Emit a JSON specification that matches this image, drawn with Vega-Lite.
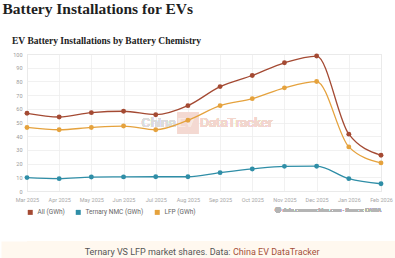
{
  "$schema": "https://vega.github.io/schema/vega-lite/v6.json",
  "background": "#ffffff",
  "padding": {"left": 0, "top": 1, "right": 0, "bottom": 0},
  "columns": 1,
  "align": "none",
  "spacing": 24,
  "resolve": {"legend": {"color": "independent"}, "scale": {"color": "independent"}},
  "title": {
    "text": "Battery Installations for EVs",
    "anchor": "start",
    "font": "Liberation Serif",
    "fontSize": 15.5,
    "fontWeight": "bold",
    "color": "#1f1f1f",
    "offset": 18,
    "dx": 2
  },
  "datasets": {
    "installs": [
      {"month": "Mar 2025", "series": "All (GWh)", "gwh": 56.7},
      {"month": "Apr 2025", "series": "All (GWh)", "gwh": 54.0},
      {"month": "May 2025", "series": "All (GWh)", "gwh": 57.2},
      {"month": "Jun 2025", "series": "All (GWh)", "gwh": 58.2},
      {"month": "Jul 2025", "series": "All (GWh)", "gwh": 55.7},
      {"month": "Aug 2025", "series": "All (GWh)", "gwh": 62.3},
      {"month": "Sep 2025", "series": "All (GWh)", "gwh": 76.2},
      {"month": "Oct 2025", "series": "All (GWh)", "gwh": 84.3},
      {"month": "Nov 2025", "series": "All (GWh)", "gwh": 93.6},
      {"month": "Dec 2025", "series": "All (GWh)", "gwh": 98.5},
      {"month": "Jan 2026", "series": "All (GWh)", "gwh": 41.5},
      {"month": "Feb 2026", "series": "All (GWh)", "gwh": 26.1},
      {"month": "Mar 2025", "series": "Ternary NMC (GWh)", "gwh": 9.8},
      {"month": "Apr 2025", "series": "Ternary NMC (GWh)", "gwh": 9.0},
      {"month": "May 2025", "series": "Ternary NMC (GWh)", "gwh": 10.2},
      {"month": "Jun 2025", "series": "Ternary NMC (GWh)", "gwh": 10.3},
      {"month": "Jul 2025", "series": "Ternary NMC (GWh)", "gwh": 10.4},
      {"month": "Aug 2025", "series": "Ternary NMC (GWh)", "gwh": 10.4},
      {"month": "Sep 2025", "series": "Ternary NMC (GWh)", "gwh": 13.4},
      {"month": "Oct 2025", "series": "Ternary NMC (GWh)", "gwh": 16.1},
      {"month": "Nov 2025", "series": "Ternary NMC (GWh)", "gwh": 18.0},
      {"month": "Dec 2025", "series": "Ternary NMC (GWh)", "gwh": 18.1},
      {"month": "Jan 2026", "series": "Ternary NMC (GWh)", "gwh": 9.0},
      {"month": "Feb 2026", "series": "Ternary NMC (GWh)", "gwh": 5.3},
      {"month": "Mar 2025", "series": "LFP (GWh)", "gwh": 46.4},
      {"month": "Apr 2025", "series": "LFP (GWh)", "gwh": 44.7},
      {"month": "May 2025", "series": "LFP (GWh)", "gwh": 46.4},
      {"month": "Jun 2025", "series": "LFP (GWh)", "gwh": 47.4},
      {"month": "Jul 2025", "series": "LFP (GWh)", "gwh": 44.7},
      {"month": "Aug 2025", "series": "LFP (GWh)", "gwh": 51.6},
      {"month": "Sep 2025", "series": "LFP (GWh)", "gwh": 62.3},
      {"month": "Oct 2025", "series": "LFP (GWh)", "gwh": 67.4},
      {"month": "Nov 2025", "series": "LFP (GWh)", "gwh": 75.3},
      {"month": "Dec 2025", "series": "LFP (GWh)", "gwh": 79.9},
      {"month": "Jan 2026", "series": "LFP (GWh)", "gwh": 32.2},
      {"month": "Feb 2026", "series": "LFP (GWh)", "gwh": 20.5}
    ],
    "footer": [
      {"lead": "Ternary VS LFP market shares. Data:", "link": "China EV DataTracker", "row": 0.5}
    ]
  },
  "concat": [
    {
      "width": 354,
      "height": 137,
      "title": {
        "text": "EV Battery Installations by Battery Chemistry",
        "anchor": "start",
        "font": "Liberation Serif",
        "fontSize": 9.5,
        "fontWeight": "bold",
        "color": "#222222",
        "offset": 7,
        "dx": 11
      },
      "data": {"name": "installs"},
      "encoding": {
        "x": {
          "field": "month",
          "type": "ordinal",
          "scale": {
            "type": "point",
            "padding": 0,
            "domain": ["Mar 2025", "Apr 2025", "May 2025", "Jun 2025", "Jul 2025", "Aug 2025", "Sep 2025", "Oct 2025", "Nov 2025", "Dec 2025", "Jan 2026", "Feb 2026"]
          },
          "axis": {
            "title": null,
            "labelAngle": 0,
            "labelFont": "Roboto",
            "labelFontSize": 5.5,
            "labelColor": "#a8a8a8",
            "labelPadding": 6,
            "ticks": false,
            "domain": false,
            "grid": true,
            "gridColor": "#eeeeee",
            "gridWidth": 0.8
          }
        },
        "y": {
          "field": "gwh",
          "type": "quantitative",
          "scale": {"domain": [0, 100]},
          "axis": {
            "title": " ",
            "titleFontSize": 8,
            "titlePadding": 3,
            "minExtent": 15,
            "maxExtent": 15,
            "values": [0, 10, 20, 30, 40, 50, 60, 70, 80, 90, 100],
            "labelFont": "Roboto",
            "labelFontSize": 5.5,
            "labelColor": "#9a9a9a",
            "labelPadding": 5,
            "ticks": false,
            "domain": false,
            "grid": true,
            "gridColor": "#eeeeee",
            "gridWidth": 0.8
          }
        }
      },
      "layer": [
        {
          "mark": {"type": "text", "text": "China", "font": "Roboto", "fontSize": 13.5, "color": "#dcdcdc", "align": "right", "baseline": "middle", "dx": -12},
          "encoding": {"x": {"datum": "Aug 2025"}, "y": {"datum": 49.6}}
        },
        {
          "mark": {"type": "point", "shape": "square", "filled": true, "size": 430, "color": "#f4d9d2", "opacity": 1},
          "encoding": {"x": {"datum": "Aug 2025"}, "y": {"datum": 49.6}}
        },
        {
          "mark": {"type": "text", "text": "EV", "font": "Roboto", "fontSize": 13.5, "color": "#f9e9e4", "align": "center", "baseline": "middle", "dx": -2},
          "encoding": {"x": {"datum": "Aug 2025"}, "y": {"datum": 49.6}}
        },
        {
          "mark": {"type": "text", "text": "DataTracker", "font": "Roboto", "fontSize": 13.5, "color": "#f2d6ce", "align": "left", "baseline": "middle", "dx": 12},
          "encoding": {"x": {"datum": "Aug 2025"}, "y": {"datum": 49.6}}
        },
        {
          "mark": {"type": "text", "text": "ⓒ data.carnewschina.com · Source: CABIA", "font": "Roboto", "fontSize": 5.5, "color": "#b4b4b4", "align": "right", "baseline": "middle", "dy": 19},
          "encoding": {"x": {"datum": "Feb 2026"}, "y": {"datum": 0}}
        },
        {
          "mark": {"type": "line", "interpolate": "monotone", "strokeWidth": 1.3},
          "encoding": {
            "color": {
              "field": "series",
              "type": "nominal",
              "sort": ["All (GWh)", "Ternary NMC (GWh)", "LFP (GWh)"],
              "scale": {
                "domain": ["All (GWh)", "Ternary NMC (GWh)", "LFP (GWh)"],
                "range": ["#a44a33", "#2f8ea7", "#e5a23d"]
              },
              "legend": {
                "title": null,
                "orient": "bottom",
                "direction": "horizontal",
                "symbolType": "square",
                "symbolSize": 25,
                "symbolStrokeWidth": 0,
                "labelFont": "Roboto",
                "labelFontSize": 6.5,
                "labelColor": "#666666",
                "columnPadding": 10,
                "labelOffset": 4,
                "offset": 6
              }
            }
          }
        },
        {
          "mark": {"type": "point", "filled": true, "size": 24, "opacity": 1},
          "encoding": {
            "color": {"field": "series", "type": "nominal", "legend": null}
          }
        }
      ]
    },
    {
      "width": 369,
      "height": 19,
      "view": {"fill": "#fff8ef", "stroke": null},
      "data": {"name": "footer"},
      "encoding": {
        "y": {
          "field": "row",
          "type": "quantitative",
          "scale": {"domain": [0, 1]},
          "axis": {
            "title": null,
            "labels": false,
            "ticks": false,
            "grid": false,
            "domain": true,
            "domainColor": "#fff8ef",
            "domainWidth": 52
          }
        }
      },
      "layer": [
        {
          "mark": {"type": "text", "font": "Roboto", "fontSize": 9, "color": "#555555", "align": "right", "baseline": "middle", "dx": 19, "dy": 1},
          "encoding": {"text": {"field": "lead"}}
        },
        {
          "mark": {"type": "text", "font": "Roboto", "fontSize": 9, "color": "#a5503a", "align": "left", "baseline": "middle", "dx": 21.5, "dy": 1},
          "encoding": {"text": {"field": "link"}}
        }
      ]
    }
  ]
}
